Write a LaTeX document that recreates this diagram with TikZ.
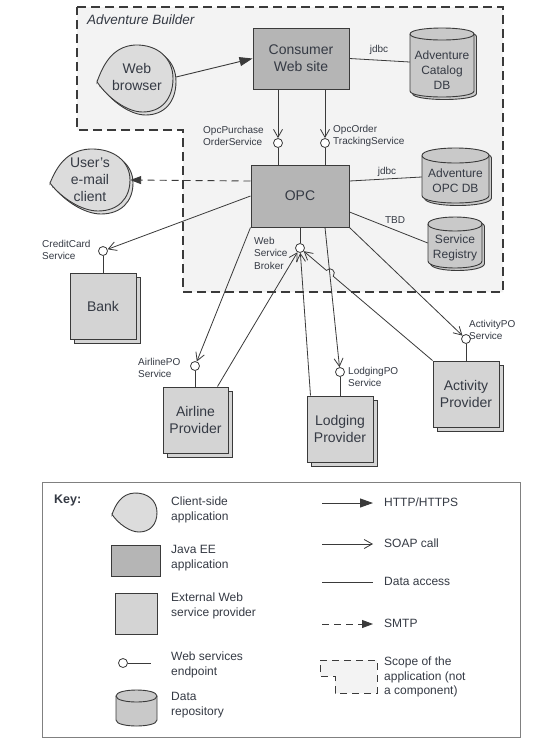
\documentclass[tikz,border=0pt]{standalone}
\usepackage{fontspec}
\setmainfont{Liberation Sans}
\usetikzlibrary{arrows.meta,shadows,calc}
\definecolor{javagray}{HTML}{B5B5B5}
\definecolor{provgray}{HTML}{D4D4D4}
\definecolor{clientgray}{HTML}{DCDCDC}
\definecolor{dbgray}{HTML}{C9C9C9}
\definecolor{scopebg}{HTML}{F3F3F3}
\definecolor{ink}{HTML}{3A3A3A}
\definecolor{txt}{HTML}{353A44}
\newcommand{\ABbig}{\fontsize{14}{17}\selectfont}
\newcommand{\ABdb}{\fontsize{12}{15}\selectfont}
\newcommand{\ABsml}{\fontsize{10}{12.5}\selectfont}
\newcommand{\ABkey}{\fontsize{12}{15}\selectfont}
\newcommand{\dbcyl}[5]{%
  \path[fill=dbgray, draw=ink, line width=0.9pt, shift={(2.5,2.5)}] ({#1},{#2+#5}) -- ({#1},{#4-#5}) .. controls ({#1},{#4+#5/3}) and ({#3},{#4+#5/3}) .. ({#3},{#4-#5}) -- ({#3},{#2+#5}) .. controls ({#3},{#2-#5/3}) and ({#1},{#2-#5/3}) .. cycle;
  \path[fill=dbgray, draw=ink, line width=0.9pt] ({#1},{#2+#5}) -- ({#1},{#4-#5}) .. controls ({#1},{#4+#5/3}) and ({#3},{#4+#5/3}) .. ({#3},{#4-#5}) -- ({#3},{#2+#5}) .. controls ({#3},{#2-#5/3}) and ({#1},{#2-#5/3}) .. cycle;
  \draw[ink, line width=0.9pt] ({#1},{#2+#5}) .. controls ({#1},{#2+#5*7/3}) and ({#3},{#2+#5*7/3}) .. ({#3},{#2+#5});
}
\newcommand{\dbcylflat}[5]{%
  \path[fill=dbgray, draw=ink, line width=0.9pt] ({#1},{#2+#5}) -- ({#1},{#4-#5}) .. controls ({#1},{#4+#5/3}) and ({#3},{#4+#5/3}) .. ({#3},{#4-#5}) -- ({#3},{#2+#5}) .. controls ({#3},{#2-#5/3}) and ({#1},{#2-#5/3}) .. cycle;
  \draw[ink, line width=0.9pt] ({#1},{#2+#5}) .. controls ({#1},{#2+#5*7/3}) and ({#3},{#2+#5*7/3}) .. ({#3},{#2+#5});
}
\tikzset{
  clientshape/.pic={\path[pic actions] (0,0.55) .. controls (0.08,0.3) and (0.2,0.02) .. (0.5,0) .. controls (0.8,-0.01) and (1,0.2) .. (1,0.5) .. controls (1,0.8) and (0.85,1) .. (0.6,1) .. controls (0.4,1) and (0.15,0.8) .. cycle;},
  clientfill/.style={draw=ink, fill=clientgray, line width=0.9pt},
  javabox/.style={draw=ink, line width=1pt, fill=javagray, inner sep=0pt, align=center, text=txt, font=\ABbig},
  provbox/.style={draw=ink, line width=1pt, fill=provgray, inner sep=0pt, align=center, text=txt, font=\ABbig, copy shadow={shadow xshift=4pt, shadow yshift=-4pt}},
  plainprov/.style={draw=ink, line width=1pt, fill=provgray, inner sep=0pt},
  ctext/.style={inner sep=0pt, align=center, text=txt, font=\ABbig},
  dbtext/.style={inner sep=0pt, align=center, text=txt, font=\ABdb},
  ep/.style={circle, draw=ink, fill=white, line width=0.8pt, minimum size=9pt, inner sep=0pt},
  soap/.style={draw=ink, line width=0.8pt, -{Straight Barb[length=8pt,width=9pt]}},
  http/.style={draw=ink, line width=0.9pt, -{Triangle[length=13pt,width=9pt]}},
  dacc/.style={draw=ink, line width=0.8pt},
  smtp/.style={draw=ink, line width=0.9pt, dash pattern=on 7pt off 5pt, -{Triangle[length=11pt,width=8pt]}},
  lbl/.style={inner sep=0pt, align=left, text=txt, font=\ABsml},
  klbl/.style={inner sep=0pt, align=left, text=txt, font=\ABkey, anchor=west},
}
\begin{document}
\begin{tikzpicture}[x=1pt,y=-1pt]
\useasboundingbox[fill=white] (0,0) rectangle (560,748);
% scope of application
\draw[fill=scopebg, draw=ink, line width=1.2pt, dash pattern=on 9pt off 5pt]
  (77,7) -- (503,7) -- (503,292) -- (183,292) -- (183,130) -- (77,130) -- cycle;
\node[anchor=west, inner sep=0pt, text=txt, font=\fontsize{13.5}{16}\selectfont\itshape] (ab) at (87,20) {Adventure Builder};

% Web browser
\pic[clientfill, xscale=76, yscale=67] at (100,48) {clientshape};
\pic[clientfill, xscale=76, yscale=67] at (97,45) {clientshape};
\node[ctext, minimum width=78pt, minimum height=60pt] (wb) at (137,77) {Web\\browser};

% Consumer Web site
\node[javabox, minimum width=96pt, minimum height=61pt] (cws) at (301,58.5) {Consumer\\Web site};

% Catalog DB
\dbcyl{410}{28}{474}{97}{6}
\node[dbtext, minimum width=64pt, minimum height=50pt] (cat) at (442,70) {Adventure\\Catalog\\DB};

% OPC
\node[javabox, minimum width=98pt, minimum height=62pt] (opc) at (300,196) {OPC};

% OPC DB
\dbcyl{422}{148}{489}{203}{7.5}
\node[dbtext, minimum width=67pt, minimum height=34pt] (odb) at (455.5,180.5) {Adventure\\OPC DB};

% Service Registry
\dbcyl{428}{217}{482}{268}{7}
\node[dbtext, minimum width=54pt, minimum height=34pt] (reg) at (455,248) {Service\\Registry};

% User's e-mail client
\pic[clientfill, xscale=80, yscale=62] at (53,152) {clientshape};
\pic[clientfill, xscale=80, yscale=62] at (50,149) {clientshape};
\node[ctext, minimum width=80pt, minimum height=56pt] (em) at (90,180) {User's\\e-mail\\client};

% providers
\node[provbox, minimum width=66pt, minimum height=66pt] (bank) at (103,306) {Bank};
\node[provbox, minimum width=65pt, minimum height=66pt] (air) at (195.5,420) {Airline\\Provider};
\node[provbox, minimum width=66pt, minimum height=66pt] (lod) at (340,429) {Lodging\\Provider};
\node[provbox, minimum width=66pt, minimum height=66pt] (act) at (466,394) {Activity\\Provider};

% endpoints
\node[ep] (e1) at (278,143) {};
\node[ep] (e2) at (325,143) {};
\node[ep] (wsb) at (300,248) {};
\node[ep] (ecc) at (103,251) {};
\node[ep] (eair) at (195,366) {};
\node[ep] (elod) at (340,372) {};
\node[ep] (eact) at (466,339) {};

% labels
\node[lbl, anchor=west] (l1) at (203,136) {OpcPurchase\\OrderService};
\node[lbl, anchor=west] (l2) at (333,136) {OpcOrder\\TrackingService};
\node[lbl] (l3) at (379,50) {jdbc};
\node[lbl] (l4) at (387,172) {jdbc};
\node[lbl] (l5) at (395,220) {TBD};
\node[lbl, anchor=west] (l6) at (42,250) {CreditCard\\Service};
\node[lbl, anchor=west] (l7) at (254,253) {Web\\Service\\Broker};
\node[lbl, anchor=west] (l8) at (138,368) {AirlinePO\\Service};
\node[lbl, anchor=west] (l9) at (348,377) {LodgingPO\\Service};
\node[lbl, anchor=west] (l10) at (469,330) {ActivityPO\\Service};

% connectors
\draw[http] (wb.east) -- (cws.west);
\draw[dacc] (cws.east) -- ([yshift=8pt]cat.west);
\draw[soap] (cws.south -| e1) -- (e1);
\draw[soap] (cws.south -| e2) -- (e2);
\draw[dacc] (e1) -- (e1 |- opc.north);
\draw[dacc] (e2) -- (e2 |- opc.north);
\draw[dacc] ([yshift=15pt]opc.east) -- ([yshift=3.5pt]odb.west);
\draw[dacc] ([yshift=-16pt]opc.east) -- ([yshift=5pt]reg.west);
\draw[smtp] ([yshift=15pt]opc.west) -- (em.east);
\draw[soap] (opc.west) -- (ecc);
\draw[dacc] (ecc) -- (ecc |- bank.north);
\draw[dacc] (wsb) -- (wsb |- opc.south);
\draw[soap] (opc.south west) -- (eair);
\draw[dacc] (eair) -- (eair |- air.north);
\draw[soap] ([xshift=25pt]opc.south) -- (elod);
\draw[dacc] (elod) -- (elod |- lod.north);
\draw[soap] (opc.south east) -- (eact);
\draw[dacc] (eact) -- (eact |- act.north);
\draw[soap] ([xshift=-11pt]air.north east) -- (wsb);
\draw[soap] ([xshift=4pt]lod.north west) -- (wsb);
\draw[soap] (act.north west) -- (333.2,276.2) .. controls (337.1,271.6) and (330.3,265.8) .. (326.4,270.4) -- (wsb);

% Key
\node[draw=gray, line width=0.8pt, fill=white, minimum width=478pt, minimum height=255pt, inner sep=0pt] (key) at (281,609.5) {};
\node[anchor=west, inner sep=0pt, text=txt, font=\fontsize{12.5}{15}\selectfont\bfseries] (kt) at (54,500) {Key:};
\pic[clientfill, xscale=45, yscale=39] at (112,493) {clientshape};
\node[javabox, minimum width=49pt, minimum height=31pt] (kj) at (135.5,560.5) {};
\node[plainprov, minimum width=42pt, minimum height=41pt] (kx) at (136,613.5) {};
\node[ep] (kep) at (123,663) {};
\coordinate (kepr) at (151,663);
\draw[dacc] (kep) -- (kepr);
\dbcylflat{116}{690}{157}{726}{6}

\node[klbl] (k1) at (171,509.5) {Client-side\\application};
\node[klbl] (k2) at (171,558) {Java EE\\application};
\node[klbl] (k3) at (171,605.5) {External Web\\service provider};
\node[klbl] (k4) at (171,664.5) {Web services\\endpoint};
\node[klbl] (k5) at (171,705.5) {Data\\repository};

\coordinate (ka1) at (322,503); \coordinate (kb1) at (373,503);
\coordinate (ka2) at (322,544); \coordinate (kb2) at (373,544);
\coordinate (ka3) at (322,582); \coordinate (kb3) at (373,582);
\coordinate (ka4) at (322,624); \coordinate (kb4) at (373,624);
\draw[http] (ka1) -- (kb1);
\draw[soap] (ka2) -- (kb2);
\draw[dacc] (ka3) -- (kb3);
\draw[smtp] (ka4) -- (kb4);
\draw[fill=scopebg, draw=ink, line width=0.9pt, dash pattern=on 7pt off 5pt]
  (320,660) -- (377,660) -- (377,693) -- (335,693) -- (335,676) -- (320,676) -- cycle;

\node[klbl] (k6) at (384,502) {HTTP/HTTPS};
\node[klbl] (k7) at (384,543) {SOAP call};
\node[klbl] (k8) at (384,581) {Data access};
\node[klbl] (k9) at (384,623) {SMTP};
\node[klbl, font=\fontsize{12}{14.5}\selectfont] (k10) at (384,677) {Scope of the\\application (not\\a component)};
\end{tikzpicture}
\end{document}
